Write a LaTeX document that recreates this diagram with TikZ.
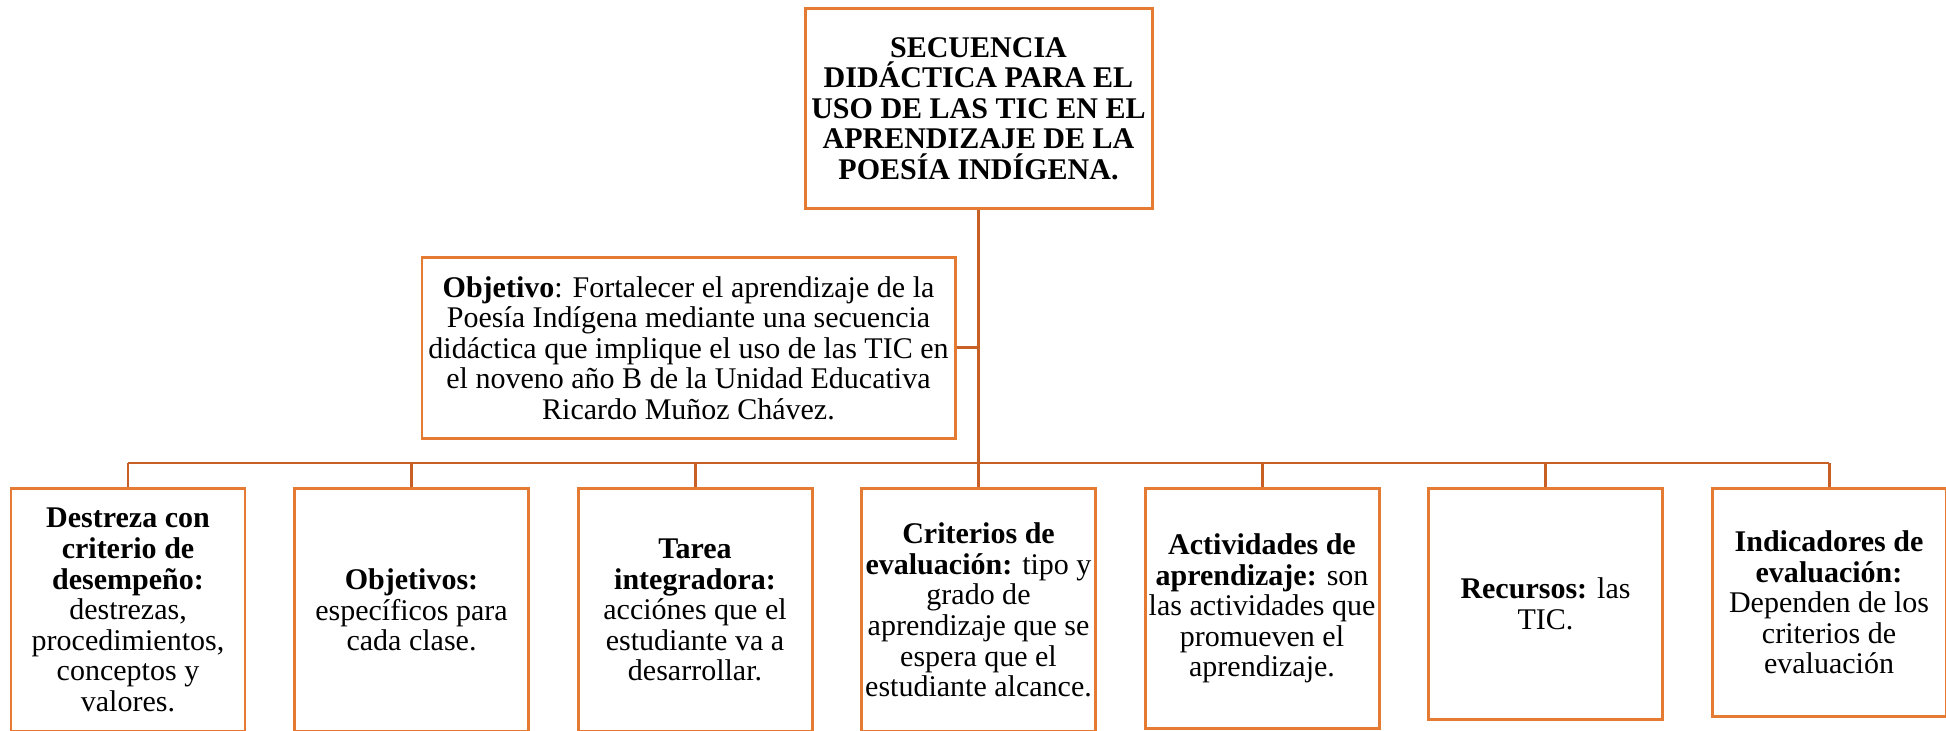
\documentclass[tikz,border=0pt]{standalone}
\usepackage{fontspec}
\setmainfont{Liberation Serif}
\definecolor{naranja}{RGB}{229,122,51}
\definecolor{naranjaosc}{RGB}{200,96,38}
\begin{document}
\begin{tikzpicture}[font=\fontsize{8.54}{8.7}\selectfont,
	caja/.style={draw=naranja,line width=.85pt,align=center,inner sep=.5pt,anchor=north},
	hoja/.style={caja,minimum width=2.34cm},
	rama/.style={draw=naranjaosc,line width=.85pt}]
	\useasboundingbox (0,0) rectangle (19.46,-7.31);
	\coordinate (bus) at (0,-4.63);
	\node[caja,minimum width=3.47cm,minimum height=2cm,font=\fontsize{8.54}{8.7}\selectfont\bfseries] (tit) at (9.785,-.07)
		{SECUENCIA\\ DIDÁCTICA PARA EL\\ USO DE LAS TIC EN EL\\ APRENDIZAJE DE LA\\ POESÍA INDÍGENA.};
	\node[caja,minimum width=5.33cm,minimum height=1.81cm] (obj) at (6.885,-2.56)
		{\textbf{Objetivo}: Fortalecer el aprendizaje de la\\ Poesía Indígena mediante una secuencia\\ didáctica que implique el uso de las TIC en\\ el noveno año B de la Unidad Educativa\\ Ricardo Muñoz Chávez.};
	% ramas de abajo
	\node[hoja,minimum height=2.43cm] (d1) at (1.28,-4.87)
		{\textbf{Destreza con}\\ \textbf{criterio de}\\ \textbf{desempeño:}\\ destrezas,\\ procedimientos,\\ conceptos y\\ valores.};
	\node[hoja,minimum height=2.43cm] (d2) at (4.115,-4.87)
		{\textbf{Objetivos:}\\ específicos para\\ cada clase.};
	\node[hoja,minimum height=2.43cm] (d3) at (6.95,-4.87)
		{\textbf{Tarea}\\ \textbf{integradora:}\\ acciónes que el\\ estudiante va a\\ desarrollar.};
	\node[hoja,minimum height=2.43cm] (d4) at (9.785,-4.87)
		{\textbf{Criterios de}\\ \textbf{evaluación:} tipo y\\ grado de\\ aprendizaje que se\\ espera que el\\ estudiante alcance.};
	\node[hoja,minimum height=2.4cm] (d5) at (12.62,-4.87)
		{\textbf{Actividades de}\\ \textbf{aprendizaje:} son\\ las actividades que\\ promueven el\\ aprendizaje.};
	\node[hoja,minimum height=2.31cm] (d6) at (15.455,-4.87)
		{\textbf{Recursos:} las\\ TIC.};
	\node[hoja,minimum height=2.28cm] (d7) at (18.29,-4.87)
		{\textbf{Indicadores de}\\ \textbf{evaluación:}\\ Dependen de los\\ criterios de\\ evaluación};
	\draw[rama] (tit.south) -- (tit.south |- bus);
	\draw[rama] (obj.east) -- (obj.east -| tit.south);
	\draw[rama] (d1.north |- bus) -- (d7.north |- bus);
	\foreach \n in {1,...,7}
		\draw[rama] (d\n.north) -- (d\n.north |- bus);
\end{tikzpicture}
\end{document}
